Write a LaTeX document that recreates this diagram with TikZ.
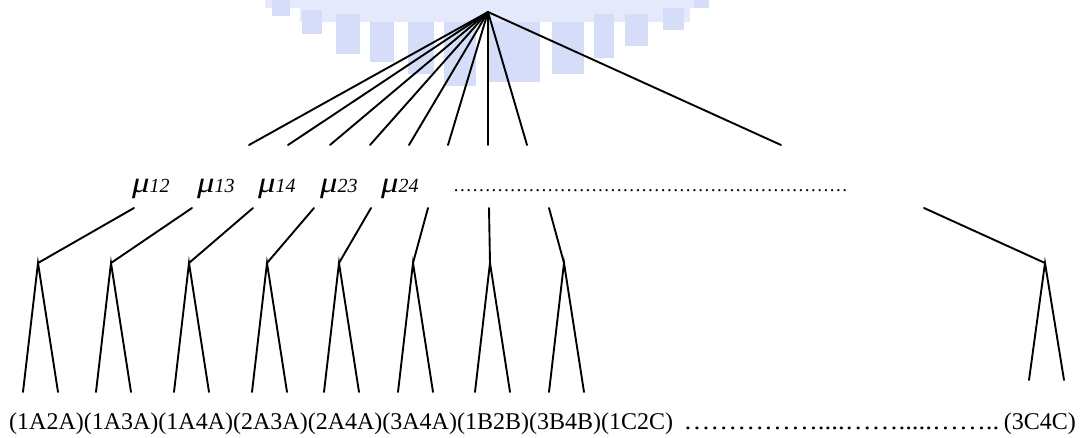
\documentclass[tikz,border=0pt]{standalone}
\usepackage{fontspec}
\setmainfont{Liberation Serif}
\definecolor{crest}{RGB}{214,221,248}
\definecolor{crestlight}{RGB}{228,233,251}
\begin{document}
\begin{tikzpicture}[x=1pt,y=-1pt,
  branch/.style={line width=1.9pt, line cap=round},
  pairtext/.style={anchor=base west, inner sep=0pt, font=\fontsize{24}{24}\selectfont},
  rate/.style={anchor=base west, inner sep=0pt}]
\useasboundingbox (0,0) rectangle (1083,438);

% faint crest behind the root
\begin{scope}
  \fill[crestlight] (265,0) rectangle (709,8);
  \fill[crestlight] (300,8) rectangle (690,22);
  \fill[crest] (272,0) rectangle (290,16);
  \fill[crest] (302,10) rectangle (322,34);
  \fill[crest] (336,14) rectangle (360,54);
  \fill[crest] (370,22) rectangle (394,62);
  \fill[crest] (408,22) rectangle (434,74);
  \fill[crest] (444,22) rectangle (476,86);
  \fill[crest] (488,22) rectangle (540,82);
  \fill[crest] (552,22) rectangle (584,74);
  \fill[crest] (594,14) rectangle (614,58);
  \fill[crest] (625,14) rectangle (648,46);
  \fill[crest] (663,8) rectangle (684,30);
  \fill[crest] (694,0) rectangle (709,8);
\end{scope}

% root and its branches
\coordinate (root) at (488,12);

\foreach \i/\ex/\tx/\nx in {1/249/134/38, 2/288/192/111, 3/330/253/189,
    4/370/314/267, 5/409/371/339, 6/448/428/413, 7/488/489/490, 8/527/549/564} {
  \coordinate (e\i) at (\ex,145);
  \coordinate (t\i) at (\tx,208);
  \coordinate (n\i) at (\nx,263);
  \coordinate (a\i) at ({\nx-15},392);
  \coordinate (b\i) at ({\nx+20},392);
  \draw[branch] (root) -- (e\i);
  \draw[branch] (t\i) -- (n\i);
  \draw[branch] (a\i) -- (n\i) -- (b\i);
}

% last branch
\coordinate (e9) at (781,145);
\coordinate (t9) at (924,208);
\coordinate (n9) at (1045,263);
\coordinate (a9) at (1029,380);
\coordinate (b9) at (1064,380);
\draw[branch] (root) -- (e9);
\draw[branch] (t9) -- (n9);
\draw[branch] (a9) -- (n9) -- (b9);

% rate labels
\foreach \nm/\x/\sub in {m12/132/12, m13/197/13, m14/258/14, m23/320/23, m24/381/24} {
  \node[rate] (\nm) at (\x,193)
    {\fontsize{29}{29}\selectfont\itshape\scalebox{1.2}[1]{μ}\fontsize{20}{20}\selectfont\sub};
}
\node[rate, font=\fontsize{18.8}{18.8}\selectfont] (mdots) at (453,192)
  {\foreach \k in {1,...,21}{…}};

% pair labels
\node[pairtext] (pairs) at (9,429)
  {(1A2A)(1A3A)(1A4A)(2A3A)(2A4A)(3A4A)(1B2B)(3B4B)(1C2C)};
\node[pairtext, anchor=base east] (last) at (1076,429) {(3C4C)};
\node[pairtext] (gap) at ([xshift=10pt]pairs.base east)
  {\scalebox{1.12}[1]{……………....…….....……..}};
\end{tikzpicture}
\end{document}
